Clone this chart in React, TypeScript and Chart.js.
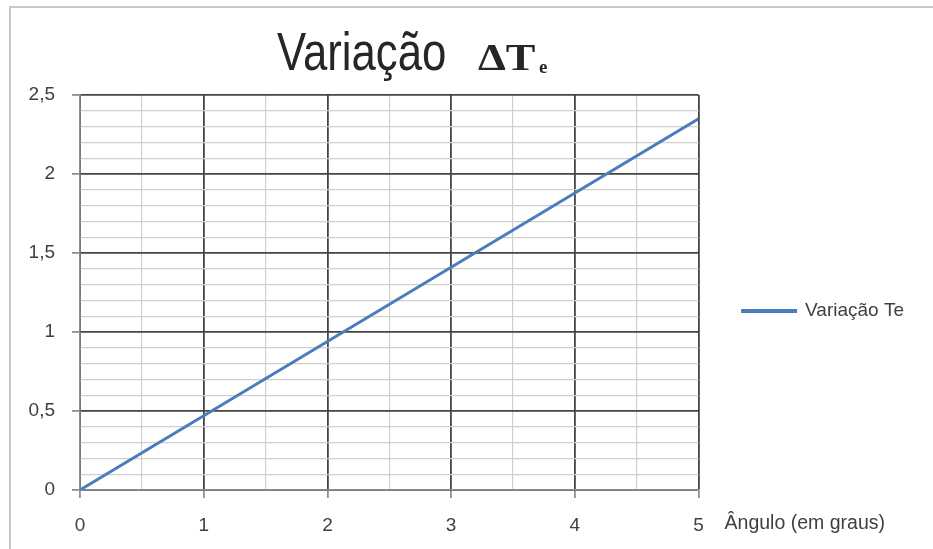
import React, { useEffect, useRef } from 'react';
import { Chart, registerables } from 'chart.js';

Chart.register(...registerables);

const angles = [0, 1, 2, 3, 4, 5];
const deltaTe = [0, 0.47, 0.94, 1.41, 1.88, 2.35];
const seriesLabel = 'Variação Te';
const xAxisTitle = 'Ângulo (em graus)';
const titleMain = 'Variação';
const titleSymbol = 'ΔT';
const titleSub = 'e';

const FONT = "'Liberation Sans', Arial, sans-serif";
const SERIF = "'Liberation Serif', 'Times New Roman', serif";
const TEXT = '#404040';
const LINE = '#4A7EBB';

const isMajorY = (v: number) => Math.abs(v * 2 - Math.round(v * 2)) < 1e-6;
const isMajorX = (v: number) => Math.abs(v - Math.round(v)) < 1e-6;

const decorations = {
  id: 'decorations',
  beforeDraw(chart: any) {
    const { ctx } = chart;
    ctx.save();
    ctx.fillStyle = '#ffffff';
    ctx.fillRect(0, 0, chart.width, chart.height);
    ctx.strokeStyle = '#c8c8c8';
    ctx.lineWidth = 2;
    ctx.strokeRect(10, 7, chart.width + 50, chart.height + 50);
    ctx.restore();
  },
  afterDraw(chart: any) {
    const { ctx, chartArea } = chart;
    ctx.save();
    ctx.fillStyle = '#262626';
    ctx.textBaseline = 'alphabetic';
    ctx.textAlign = 'left';
    // main title
    ctx.save();
    ctx.translate(277, 70);
    ctx.scale(0.81, 1);
    ctx.font = `54px ${FONT}`;
    ctx.fillText(titleMain, 0, 0);
    ctx.restore();
    ctx.save();
    ctx.translate(478, 70);
    ctx.scale(1.2, 1);
    ctx.font = `bold 37px ${SERIF}`;
    ctx.fillText(titleSymbol, 0, 0);
    ctx.restore();
    ctx.font = `bold 19px ${SERIF}`;
    ctx.fillText(titleSub, 539, 73);
    // x axis title
    ctx.fillStyle = TEXT;
    ctx.font = `19.5px ${FONT}`;
    ctx.fillText(xAxisTitle, chartArea.right + 26, 529);
    ctx.restore();
  },
};

export default function App() {
  const ref = useRef<HTMLCanvasElement | null>(null);

  useEffect(() => {
    if (!ref.current) return;
    const chart = new Chart(ref.current, {
      type: 'line',
      data: {
        datasets: [
          {
            label: seriesLabel,
            data: angles.map((a, i) => ({ x: a, y: deltaTe[i] })),
            borderColor: LINE,
            backgroundColor: LINE,
            borderWidth: 3,
            pointRadius: 0,
            tension: 0,
          },
        ],
      },
      options: {
        animation: false,
        responsive: false,
        maintainAspectRatio: false,
        layout: { padding: { top: 95, bottom: 0, left: 0, right: 19 } },
        plugins: {
          title: { display: false },
          tooltip: { enabled: false },
          legend: {
            display: true,
            position: 'right',
            fullSize: false,
            title: {
              display: true,
              text: ' ',
              font: { size: 10 },
              padding: { top: 12.5, bottom: 12.5 },
            },
            labels: {
              boxWidth: 53,
              boxHeight: 1,
              padding: 44,
              color: TEXT,
              font: { size: 19, family: FONT },
            },
          },
        },
        scales: {
          x: {
            type: 'linear',
            min: 0,
            max: 5,
            afterFit: (s: any) => {
              s.height = 59;
            },
            ticks: {
              stepSize: 0.5,
              autoSkip: false,
              maxRotation: 0,
              padding: 16,
              color: TEXT,
              font: { size: 19, family: FONT },
              callback: (v: any) => (isMajorX(Number(v)) ? String(Math.round(Number(v))) : ''),
            },
            grid: {
              color: (c: any) => (isMajorX(c.tick.value) ? '#454545' : '#d0d0d0'),
              lineWidth: (c: any) => (isMajorX(c.tick.value) ? 1.8 : 1.2),
              tickColor: (c: any) => (isMajorX(c.tick.value) ? '#909090' : 'rgba(0,0,0,0)'),
              tickLength: 8,
            },
            border: { color: '#8c8c8c', width: 1.5 },
          },
          y: {
            type: 'linear',
            min: 0,
            max: 2.5,
            afterFit: (s: any) => {
              s.width = 80;
            },
            ticks: {
              stepSize: 0.1,
              autoSkip: false,
              padding: 17,
              color: TEXT,
              font: { size: 19, family: FONT },
              callback: (v: any) => {
                const n = Number(v);
                if (!isMajorY(n)) return '';
                return String(Math.round(n * 2) / 2).replace('.', ',');
              },
            },
            grid: {
              color: (c: any) => (isMajorY(c.tick.value) ? '#454545' : '#d0d0d0'),
              lineWidth: (c: any) => (isMajorY(c.tick.value) ? 1.8 : 1.2),
              tickColor: (c: any) => (isMajorY(c.tick.value) ? '#909090' : 'rgba(0,0,0,0)'),
              tickLength: 8,
            },
            border: { color: '#8c8c8c', width: 1.5 },
          },
        },
      },
      plugins: [decorations],
    });
    return () => chart.destroy();
  }, []);

  return (
    <div style={{ position: 'fixed', left: 0, top: 0, width: 933, height: 549 }}>
      <canvas ref={ref} width={933} height={549} style={{ display: 'block' }} />
    </div>
  );
}
